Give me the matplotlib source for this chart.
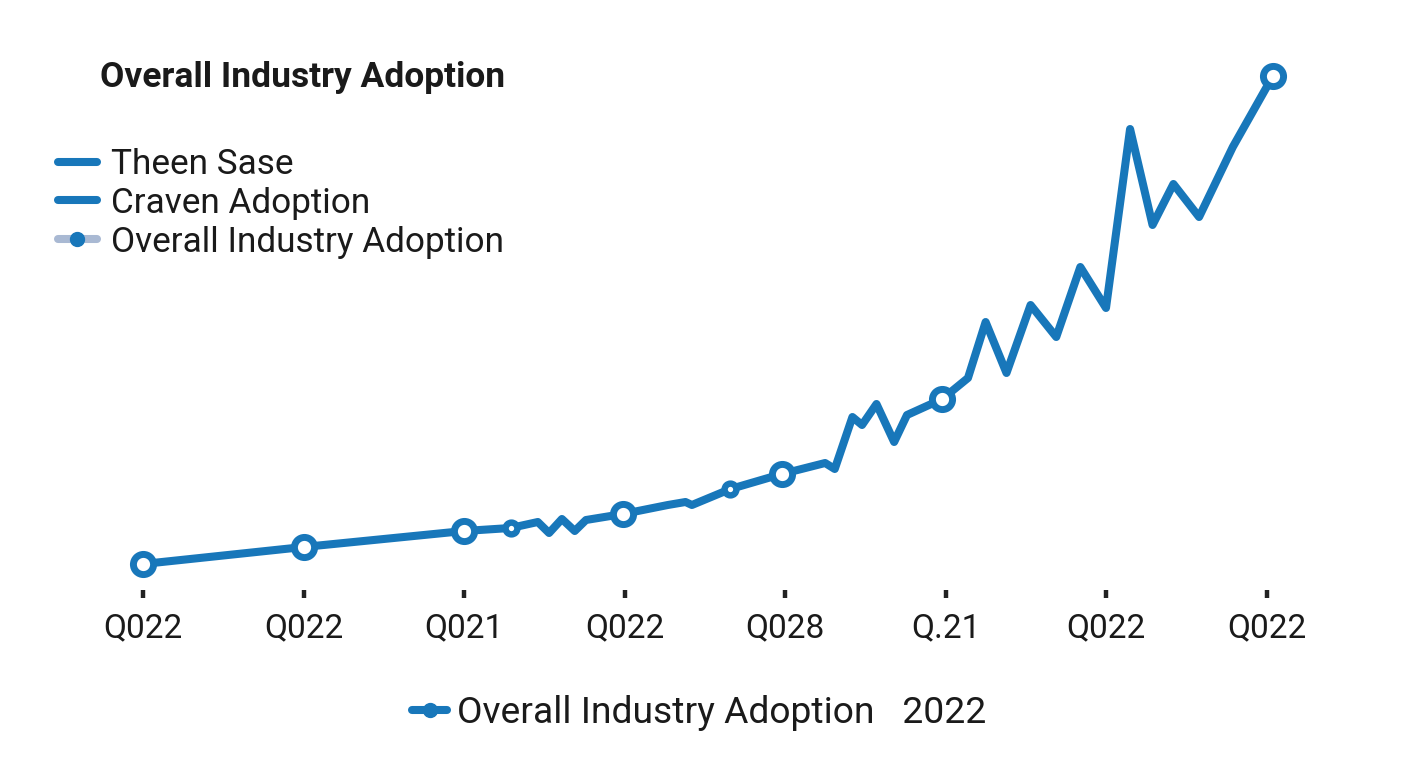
import matplotlib
matplotlib.use("Agg")
import matplotlib.pyplot as plt
from matplotlib.lines import Line2D
import numpy as np

plt.rcParams['font.family'] = ['Roboto', 'DejaVu Sans']

# ---- data ----
tick_labels = ["Q022", "Q022", "Q021", "Q022", "Q028", "Q.21", "Q022", "Q022"]
# x positions in quarter-index units (0..7), adoption index values
x_vals = [0.00, 1.00, 2.00, 2.29, 2.46, 2.53, 2.61, 2.69, 2.76, 2.99,
          3.27, 3.38, 3.42, 3.66, 3.98, 4.25, 4.31, 4.42, 4.48, 4.57,
          4.68, 4.76, 4.98, 5.14, 5.25, 5.38, 5.53, 5.69, 5.84, 6.00,
          6.15, 6.29, 6.42, 6.58, 6.79, 7.04]
y_vals = [5.2, 8.6, 11.8, 12.4, 13.6, 11.4, 14.2, 11.8, 14.0, 15.2,
          17.0, 17.6, 17.0, 20.2, 23.2, 25.4, 24.2, 34.6, 33.0, 37.2,
          29.6, 35.0, 38.2, 42.4, 53.6, 43.4, 57.0, 50.6, 64.6, 56.4,
          92.2, 73.0, 81.2, 74.6, 88.6, 102.8]
big_marker_idx = [0, 1, 2, 9, 14, 22, 35]
small_marker_idx = [3, 13]

legend_labels = ["Theen Sase", "Craven Adoption", "Overall Industry Adoption"]
bottom_label = "Overall Industry Adoption   2022"
title = "Overall Industry Adoption"

# ---- style ----
BLUE = '#1877BA'
LIGHT = '#A9B9D3'
W, H = 1408, 768
fig = plt.figure(figsize=(W / 100, H / 100), dpi=100)

ax_l, ax_r, ax_b, ax_t = 100, 1300, 590, 60
ax = fig.add_axes([ax_l / W, 1 - ax_b / H, (ax_r - ax_l) / W, (ax_b - ax_t) / H])
x0_px, step_px = 143, 160.5
ax.set_xlim((ax_l - x0_px) / step_px, (ax_r - x0_px) / step_px)
ax.set_ylim(0, (ax_b - ax_t) / 5)

x = np.array(x_vals)
y = np.array(y_vals)
ax.plot(x, y, color=BLUE, lw=5.8, solid_joinstyle='round', solid_capstyle='round', zorder=2)
bi = np.array(big_marker_idx)
si = np.array(small_marker_idx)
ax.plot(x[bi], y[bi], ls='none', marker='o', ms=14.5, mew=5, mfc='white', mec=BLUE, zorder=3)
ax.plot(x[si], y[si], ls='none', marker='o', ms=8.5, mew=4.6, mfc='white', mec=BLUE, zorder=3)

for s in ax.spines.values():
    s.set_visible(False)
ax.set_yticks([])
ax.set_xticks(range(len(tick_labels)))
ax.set_xticklabels(tick_labels, fontsize=24, color='#1a1a1a')
ax.tick_params(axis='x', direction='out', length=6, width=3.2, color='#222222', pad=10)

fig.text(100 / W, 1 - 78 / H, title, fontsize=25.5, fontweight='bold', color='#1a1a1a',
         ha='left', va='center')

handles = [Line2D([], [], color=BLUE, lw=5.8, solid_capstyle='round'),
           Line2D([], [], color=BLUE, lw=5.8, solid_capstyle='round'),
           Line2D([], [], color=LIGHT, lw=5.8, solid_capstyle='round', marker='o', ms=10, mfc=BLUE, mec=BLUE)]
fig.legend(handles, legend_labels, loc='upper left', bbox_to_anchor=(58 / W, 1 - 148 / H),
           frameon=False, fontsize=25.3, handlelength=1.1, handletextpad=0.42,
           labelspacing=0.165, borderpad=0, borderaxespad=0, labelcolor='#1a1a1a')

bh = [Line2D([], [], color=BLUE, lw=5.8, solid_capstyle='round', marker='o', ms=10, mfc=BLUE, mec=BLUE)]
fig.legend(bh, [bottom_label], loc='center left', bbox_to_anchor=(412 / W, 1 - 713 / H),
           frameon=False, fontsize=26.8, handlelength=0.95, handletextpad=0.25,
           borderpad=0, borderaxespad=0, labelcolor='#1a1a1a')

fig.savefig('out.png', dpi=100, facecolor='white')
